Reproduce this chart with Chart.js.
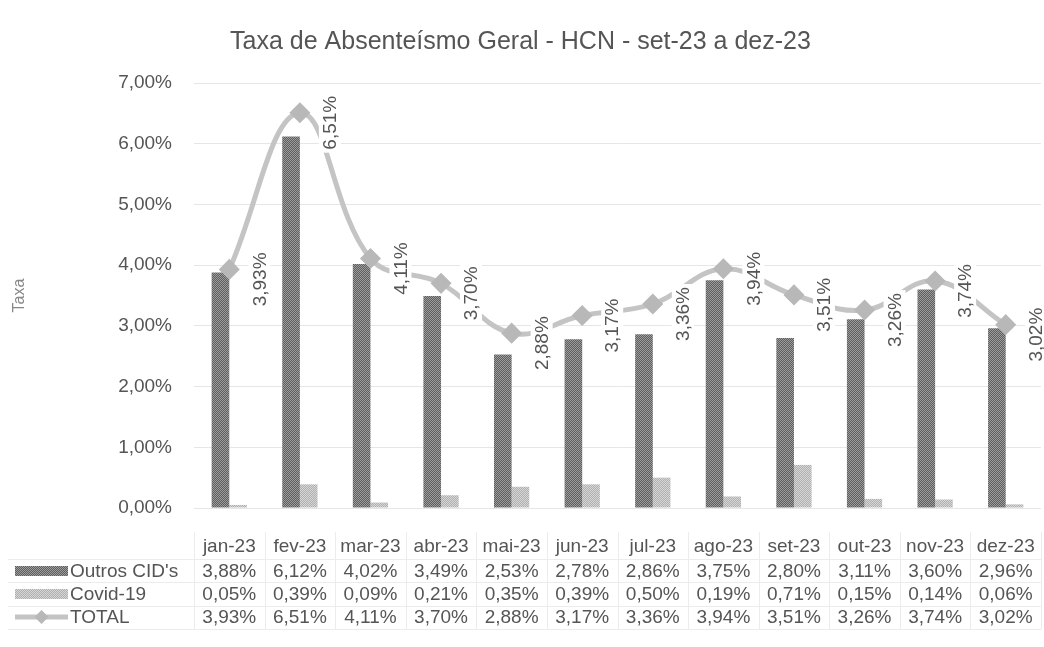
<!DOCTYPE html>
<html>
<head>
<meta charset="utf-8">
<script src="https://cdn.jsdelivr.net/npm/chart.js@4.4.1/dist/chart.umd.min.js"></script>
<style>
  html, body { margin: 0; padding: 0; background: #ffffff; }
  #wrap { width: 1044px; height: 647px; }
</style>
</head>
<body>
<div id="wrap"><canvas id="c" width="1044" height="647"></canvas></div>
<script>
const categories = ['jan-23','fev-23','mar-23','abr-23','mai-23','jun-23','jul-23','ago-23','set-23','out-23','nov-23','dez-23'];
const outrosCID = [3.88, 6.12, 4.02, 3.49, 2.53, 2.78, 2.86, 3.75, 2.80, 3.11, 3.60, 2.96];
const covid19 = [0.05, 0.39, 0.09, 0.21, 0.35, 0.39, 0.50, 0.19, 0.71, 0.15, 0.14, 0.06];
const total = [3.93, 6.51, 4.11, 3.70, 2.88, 3.17, 3.36, 3.94, 3.51, 3.26, 3.74, 3.02];
const yTickValues = [0, 1, 2, 3, 4, 5, 6, 7];
const seriesNames = ["Outros CID's", 'Covid-19', 'TOTAL'];
const chartTitle = 'Taxa de Absenteísmo Geral - HCN - set-23 a dez-23';
const yTitle = 'Taxa';

const FONT = "'Liberation Sans', Arial, sans-serif";
const TXT = '#555555';

function fmt(v) { return v.toFixed(2).replace('.', ',') + '%'; }

function makePattern(c1, c2) {
  const cv = document.createElement('canvas');
  cv.width = 2; cv.height = 2;
  const g = cv.getContext('2d');
  g.fillStyle = c1; g.fillRect(0, 0, 2, 2);
  g.fillStyle = c2; g.fillRect(0, 0, 1, 1); g.fillRect(1, 1, 1, 1);
  return g.createPattern(cv, 'repeat');
}
const darkPat = makePattern('#5e5e5e', '#9c9c9c');
const lightPat = makePattern('#b0b0b0', '#d6d6d6');
const lineColor = '#c4c4c4';

const rowY = [571, 594, 617];

const tablePlugin = {
  id: 'tablePlugin',
  afterDatasetsDraw(chart) {
    const ctx = chart.ctx;
    const meta = chart.getDatasetMeta(2);
    ctx.save();
    ctx.font = '19px ' + FONT;
    ctx.textAlign = 'center';
    ctx.textBaseline = 'middle';
    meta.data.forEach((pt, i) => {
      const txt = fmt(total[i]);
      const w = ctx.measureText(txt).width;
      const cx = pt.x + 30, cy = pt.y + 10;
      ctx.save();
      ctx.translate(cx, cy);
      ctx.rotate(-Math.PI / 2);
      ctx.fillStyle = '#ffffff';
      ctx.fillRect(-w / 2 - 3, -11, w + 6, 22);
      ctx.fillStyle = TXT;
      ctx.fillText(txt, 0, 1);
      ctx.restore();
    });
    ctx.restore();
  },
  afterDraw(chart) {
    const ctx = chart.ctx;
    const xs = chart.scales.x;
    const area = chart.chartArea;
    const step = xs.getPixelForValue(1) - xs.getPixelForValue(0);
    ctx.save();
    // faint table grid
    ctx.strokeStyle = '#ececec';
    ctx.lineWidth = 1;
    [559, 582, 606, 629].forEach(y => {
      ctx.beginPath(); ctx.moveTo(8, y + 0.5); ctx.lineTo(area.right, y + 0.5); ctx.stroke();
    });
    for (let i = 0; i <= categories.length; i++) {
      const x = Math.round(xs.getPixelForValue(0) - step / 2 + i * step) + 0.5;
      ctx.beginPath(); ctx.moveTo(x, 532); ctx.lineTo(x, 629); ctx.stroke();
    }
    // legend keys
    const kx0 = 15, kx1 = 68;
    ctx.fillStyle = darkPat;
    ctx.fillRect(kx0, rowY[0] - 5, kx1 - kx0, 10);
    ctx.fillStyle = lightPat;
    ctx.fillRect(kx0, rowY[1] - 5, kx1 - kx0, 10);
    ctx.strokeStyle = lineColor; ctx.lineWidth = 5;
    ctx.beginPath(); ctx.moveTo(kx0, rowY[2]); ctx.lineTo(kx1, rowY[2]); ctx.stroke();
    ctx.fillStyle = '#b8b8b8';
    ctx.beginPath();
    const mx = (kx0 + kx1) / 2, my = rowY[2];
    ctx.moveTo(mx, my - 7); ctx.lineTo(mx + 7, my); ctx.lineTo(mx, my + 7); ctx.lineTo(mx - 7, my); ctx.closePath(); ctx.fill();
    // legend names
    ctx.font = '19px ' + FONT;
    ctx.fillStyle = TXT;
    ctx.textBaseline = 'middle';
    ctx.textAlign = 'left';
    seriesNames.forEach((n, r) => ctx.fillText(n, 70, rowY[r] + 1));
    // values
    ctx.textAlign = 'center';
    const rows = [outrosCID, covid19, total];
    rows.forEach((arr, r) => {
      arr.forEach((v, i) => ctx.fillText(fmt(v), xs.getPixelForValue(i), rowY[r] + 1));
    });
    ctx.restore();
  }
};

new Chart(document.getElementById('c'), {
  data: {
    labels: categories,
    datasets: [
      { type: 'bar', label: seriesNames[0], data: outrosCID, backgroundColor: darkPat, borderWidth: 0, order: 2,
        categoryPercentage: 0.5, barPercentage: 1.0 },
      { type: 'bar', label: seriesNames[1], data: covid19, backgroundColor: lightPat, borderWidth: 0, order: 2,
        categoryPercentage: 0.5, barPercentage: 1.0 },
      { type: 'line', label: seriesNames[2], data: total, borderColor: lineColor, borderWidth: 5,
        pointStyle: 'rectRot', pointRadius: 7, pointBackgroundColor: '#b8b8b8', pointBorderColor: '#b8b8b8',
        tension: 0.4, order: 0, clip: false }
    ]
  },
  options: {
    responsive: false,
    animation: false,
    layout: { autoPadding: false, padding: { left: 0, right: 3, top: 0, bottom: 0 } },
    plugins: {
      legend: { display: false },
      tooltip: { enabled: false },
      title: {
        display: true, text: chartTitle, color: TXT,
        font: { family: FONT, size: 25, weight: 'normal' },
        padding: { top: 27, bottom: 26 }
      }
    },
    scales: {
      x: {
        grid: { display: true, drawOnChartArea: false, drawTicks: true, tickLength: 27, tickColor: 'rgba(0,0,0,0)' },
        border: { display: false },
        ticks: { color: TXT, font: { family: FONT, size: 19 }, padding: 0, maxRotation: 0, autoSkip: false },
        afterFit(s) { s.height = 139; s.paddingLeft = 0; s.paddingRight = 0; }
      },
      y: {
        min: 0, max: 7,
        afterBuildTicks(s) { s.ticks = yTickValues.map(v => ({ value: v })); },
        grid: { color: '#e6e6e6', drawTicks: false },
        border: { display: false },
        ticks: { color: TXT, font: { family: FONT, size: 19 }, padding: 22, callback: v => fmt(v) },
        title: { display: true, text: yTitle, color: '#888888', font: { family: FONT, size: 16 }, padding: { top: 10, bottom: 0 } },
        afterFit(s) { s.width = 194; }
      }
    }
  },
  plugins: [tablePlugin]
});
</script>
</body>
</html>
